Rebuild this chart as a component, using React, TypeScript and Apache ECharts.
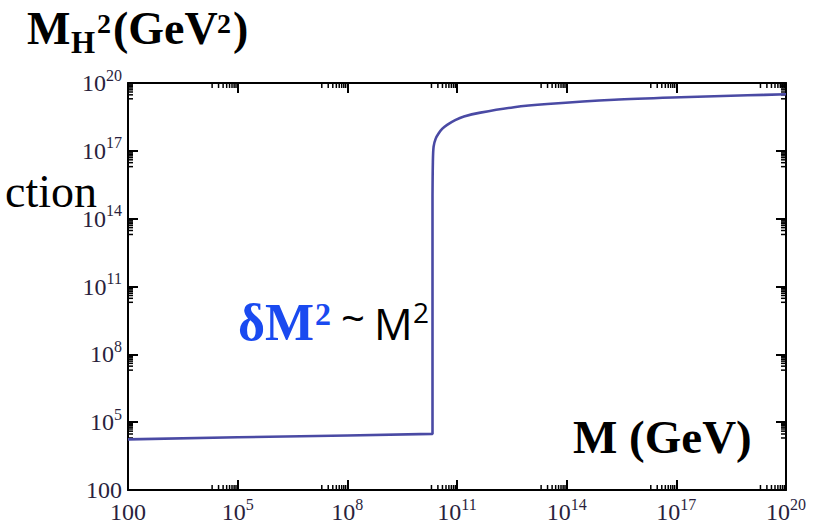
import React, { useEffect, useRef } from "react";
import * as echarts from "echarts";

// log10 of M (GeV) and log10 of M_H^2 (GeV^2)
const logM = [2, 5, 8, 10.33, 10.33, 10.34, 10.36, 10.42, 10.5, 10.6, 10.73, 10.95, 11.19, 11.64, 12.56, 13.47, 15.3, 17.12, 18.95, 20];
const logMH2 = [4.24, 4.33, 4.41, 4.48, 15.0, 16.5, 17.19, 17.55, 17.78, 17.98, 18.15, 18.36, 18.52, 18.69, 18.93, 19.07, 19.26, 19.37, 19.455, 19.5];
const jumpIndex = 4; // first point of the vertical rise

// axis ticks (exponents)
const tickMin = 2;
const tickMax = 20;
const tickStep = 3;
const majorTicks = [5, 8, 11, 14, 17, 20];
const minorMultipliers = [2, 3, 4, 5, 6, 7, 8, 9];

const SERIF = "Liberation Serif, Times New Roman, serif";
const SANS = "Open Sans, Noto Sans, sans-serif";
const LABEL_COLOR = "#2a1f3d";

function labelFmt(v: number) {
  if (v === 2) return "{n|100}";
  return "{b|10}{s|" + v + "}";
}

const rich = {
  n: { fontFamily: SERIF, fontSize: 24, lineHeight: 32, color: LABEL_COLOR },
  b: { fontFamily: SERIF, fontSize: 24, lineHeight: 32, color: LABEL_COLOR },
  s: { fontFamily: SERIF, fontSize: 16, lineHeight: 15, verticalAlign: "top", color: LABEL_COLOR },
};

function txt(text: string, x: number, baseline: number, size: number, bold: boolean, family: string, color: string, align = "left", z = 10) {
  const k = family === SANS ? 0.388 : 0.3375;
  return {
    type: "text",
    x,
    y: baseline - k * size,
    z,
    style: {
      text,
      font: (bold ? "bold " : "") + size + "px " + family,
      fill: color,
      verticalAlign: "middle",
      align,
    },
  };
}

export default function App() {
  const ref = useRef<HTMLDivElement>(null);
  useEffect(() => {
    if (!ref.current) return;
    const chart = echarts.init(ref.current, undefined, { renderer: "svg" });
    const minorVals: number[] = [];
    majorTicks.forEach((k) => minorMultipliers.forEach((j) => minorVals.push(Math.log10(j) + k - 1)));

    const axisCommon = {
      type: "value",
      min: tickMin,
      max: tickMax,
      interval: tickStep,
      axisLine: { show: true, onZero: false, lineStyle: { color: "#000", width: 2 } },
      axisTick: { show: true, inside: true, length: 10, lineStyle: { color: "#000", width: 2 } },
      splitLine: { show: false },
    };

    const tickStyle = { stroke: "#000", lineWidth: 1.5 };
    const minorLen = 5;
    const pts = logM.map((x, i) => [x, logMH2[i]]);
    const lineStyle = { color: "#4a4aa4", width: 2.6 };

    chart.setOption({
      animation: false,
      backgroundColor: "#fff",
      grid: { left: 128, right: 42, top: 83, bottom: 35, containLabel: false, outerBoundsMode: "none" },
      xAxis: [
        { ...axisCommon, position: "bottom", axisLabel: { formatter: labelFmt, rich, margin: 6 } },
        { ...axisCommon, position: "top", axisLabel: { show: false } },
      ],
      yAxis: [
        { ...axisCommon, position: "left", axisLabel: { formatter: labelFmt, rich, margin: 6 } },
        { ...axisCommon, position: "right", axisLabel: { show: false } },
      ],
      series: [
        {
          type: "line",
          data: pts.slice(0, jumpIndex + 1),
          showSymbol: false,
          symbol: "none",
          lineStyle,
          z: 3,
        },
        {
          type: "line",
          data: pts.slice(jumpIndex),
          showSymbol: false,
          symbol: "none",
          smooth: 0.3,
          lineStyle,
          z: 3,
        },
        {
          type: "custom",
          silent: true,
          clip: false,
          data: minorVals.map((v) => [v, tickMin]),
          renderItem: (params: any, api: any) => {
            const v = api.value(0);
            const b = api.coord([v, tickMin]);
            const t = api.coord([v, tickMax]);
            return {
              type: "group",
              children: [
                { type: "line", shape: { x1: b[0], y1: b[1], x2: b[0], y2: b[1] - minorLen }, style: tickStyle },
                { type: "line", shape: { x1: t[0], y1: t[1], x2: t[0], y2: t[1] + minorLen }, style: tickStyle },
              ],
            };
          },
        },
        {
          type: "custom",
          silent: true,
          clip: false,
          data: minorVals.map((v) => [tickMin, v]),
          renderItem: (params: any, api: any) => {
            const v = api.value(1);
            const l = api.coord([tickMin, v]);
            const r = api.coord([tickMax, v]);
            return {
              type: "group",
              children: [
                { type: "line", shape: { x1: l[0], y1: l[1], x2: l[0] + minorLen, y2: l[1] }, style: tickStyle },
                { type: "line", shape: { x1: r[0], y1: r[1], x2: r[0] - minorLen, y2: r[1] }, style: tickStyle },
              ],
            };
          },
        },
      ],
      graphic: [
        txt("ction", 97, 207, 46, false, SERIF, "#000", "right", 0),
        txt("M", 27, 44, 46, true, SERIF, "#000"),
        txt("H", 71, 53, 31, true, SERIF, "#000"),
        txt("2", 97, 33, 28, true, SERIF, "#000"),
        txt("(GeV", 113, 44, 46, true, SERIF, "#000"),
        txt("2", 217, 33, 28, true, SERIF, "#000"),
        txt(")", 233, 44, 46, true, SERIF, "#000"),
        txt("δM", 238, 340, 52, true, SERIF, "#1a4af0"),
        txt("2", 315, 325, 32, true, SERIF, "#1a4af0"),
        txt("~", 341, 333, 42, false, SANS, "#000"),
        txt("M", 374, 340, 43, false, SANS, "#000"),
        txt("2", 413, 323, 28, false, SANS, "#000"),
        txt("M (GeV)", 573, 453, 47, true, SERIF, "#000"),
      ],
    });
    return () => chart.dispose();
  }, []);
  return <div ref={ref} style={{ position: "fixed", left: 0, top: 0, width: 828, height: 525 }} />;
}
